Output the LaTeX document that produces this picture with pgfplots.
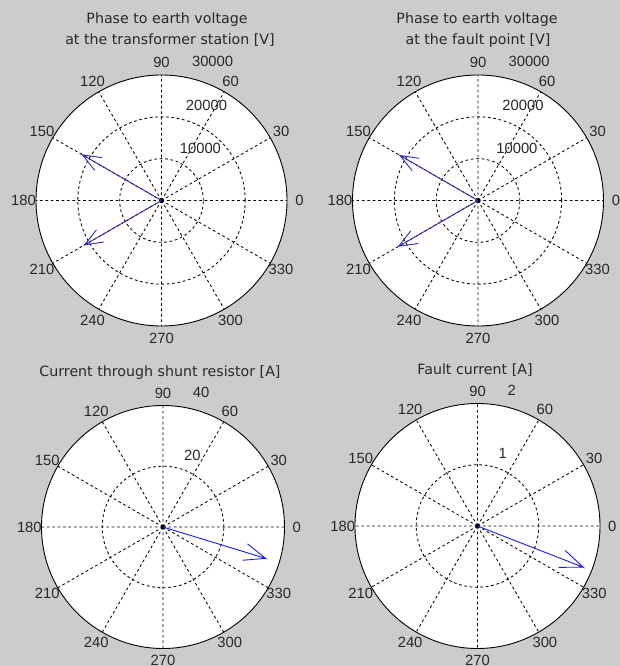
\documentclass[border=0pt]{standalone}
\usepackage{pgfplots}
\pgfplotsset{compat=1.18}
\usepgfplotslibrary{polar}
\usepackage{fontspec}
\setmainfont{DejaVu Sans}
\newfontfamily\numfont{Liberation Sans}
\definecolor{figbg}{RGB}{204,204,204}
\definecolor{topblue}{RGB}{45,45,185}
\definecolor{botblue}{RGB}{25,25,250}
\definecolor{txt}{RGB}{40,40,40}
\newcommand{\fs}{\fontsize{14.2}{17}\selectfont}
\newcommand{\nfs}{\numfont\fontsize{14.8}{17}\selectfont}
\pgfplotsset{
  compass/.style={
    scale only axis,
    ymin=0,
    xtick={0,30,...,330},
    xticklabels={},
    yticklabels={},
    scaled y ticks=false,
    major tick length=0pt,
    xmajorgrids, ymajorgrids,
    grid style={black, line width=0.85pt, dash pattern=on 2.7pt off 2.7pt},
    axis line style={black, line width=0.9pt},
    y axis line style={draw=none},
    axis background/.style={fill=white},
    clip=false,
  },
}
\tikzset{
  alab/.style={font=\nfs, text=txt, inner sep=0pt, anchor=center},
  rlab/.style={font=\nfs, text=txt, inner sep=0pt, anchor=base west, xshift=12pt, yshift=3.5pt},
}
\newcommand{\anglabels}[1]{%
  \node[alab] at (axis cs:0,#1) {0};
  \node[alab] at (axis cs:30,#1) {30};
  \node[alab] at (axis cs:60,#1) {60};
  \node[alab] at (axis cs:90,#1) {90};
  \node[alab] at (axis cs:120,#1) {120};
  \node[alab] at (axis cs:150,#1) {150};
  \node[alab] at (axis cs:180,#1) {180};
  \node[alab] at (axis cs:210,#1) {210};
  \node[alab] at (axis cs:240,#1) {240};
  \node[alab] at (axis cs:270,#1) {270};
  \node[alab] at (axis cs:300,#1) {300};
  \node[alab] at (axis cs:330,#1) {330};
}
\begin{document}
\begin{tikzpicture}
\useasboundingbox (0pt,0pt) rectangle (620pt,666pt);
\fill[figbg] (0pt,0pt) rectangle (620pt,666pt);

% titles
\node[font=\fs, text=txt, anchor=base] at (167pt,642.7pt) {Phase to earth voltage};
\node[font=\fs, text=txt, anchor=base] at (170pt,621pt) {at the transformer station [V]};
\node[font=\fs, text=txt, anchor=base] at (477pt,642.7pt) {Phase to earth voltage};
\node[font=\fs, text=txt, anchor=base] at (478pt,621pt) {at the fault point [V]};
\node[font=\fs, text=txt, anchor=base] at (160pt,289.5pt) {Current through shunt resistor [A]};
\node[font=\fs, text=txt, anchor=base] at (475pt,291.5pt) {Fault current [A]};

% top left
\begin{polaraxis}[compass, width=251pt, height=251pt, at={(161.5pt,465.5pt)}, anchor=center,
  ymax=30000, ytick={10000,20000}]
\addplot[topblue, line width=0.9pt] coordinates {(150,0) (150,21800) (155.71,17527) (150,21800) (144.29,17527)};
\addplot[topblue, line width=0.9pt] coordinates {(210,0) (210,21200) (215.71,17045) (210,21200) (204.29,17045)};
\anglabels{33000}
\node[rlab] at (axis cs:82,10500) {10000};
\node[rlab] at (axis cs:82,21000) {20000};
\node[rlab] at (axis cs:82,31500) {30000};
\end{polaraxis}

% top right
\begin{polaraxis}[compass, width=251pt, height=251pt, at={(478pt,465.5pt)}, anchor=center,
  ymax=30000, ytick={10000,20000}]
\addplot[topblue, line width=0.9pt] coordinates {(150,0) (150,21500) (155.71,17286) (150,21500) (144.29,17286)};
\addplot[topblue, line width=0.9pt] coordinates {(210,0) (210,21900) (215.71,17608) (210,21900) (204.29,17608)};
\anglabels{33000}
\node[rlab] at (axis cs:82,10500) {10000};
\node[rlab] at (axis cs:82,21000) {20000};
\node[rlab] at (axis cs:82,31500) {30000};
\end{polaraxis}

% bottom left
\begin{polaraxis}[compass, width=243pt, height=243pt, at={(163pt,139pt)}, anchor=center,
  ymax=40, ytick={20}]
\addplot[botblue, line width=0.9pt] coordinates {(343,0) (343,35.3) (348.71,28.38) (343,35.3) (337.29,28.38)};
\anglabels{44}
\node[rlab] at (axis cs:82,21) {20};
\node[rlab] at (axis cs:82,42) {40};
\end{polaraxis}

% bottom right
\begin{polaraxis}[compass, width=245pt, height=245pt, at={(477.5pt,140pt)}, anchor=center,
  ymax=2, ytick={1}]
\addplot[botblue, line width=0.9pt] coordinates {(338.7,0) (338.7,1.85) (344.41,1.487) (338.7,1.85) (332.99,1.487)};
\anglabels{2.2}
\node[rlab] at (axis cs:82,1.05) {1};
\node[rlab] at (axis cs:82,2.1) {2};
\end{polaraxis}
\end{tikzpicture}
\end{document}
